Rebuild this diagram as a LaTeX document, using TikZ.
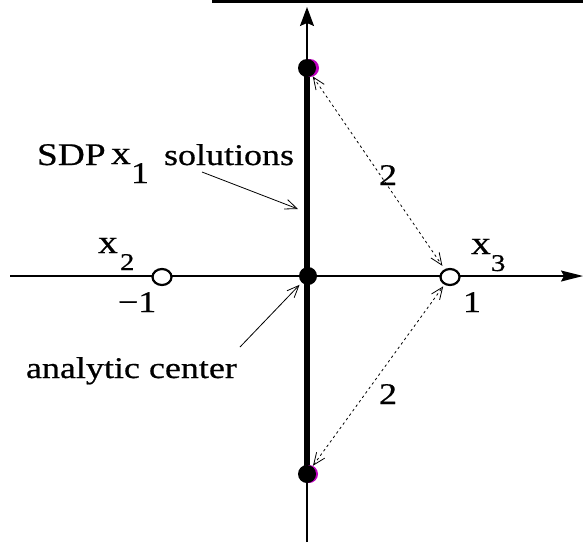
\documentclass[tikz,border=0pt]{standalone}
\usepackage{fontspec}
\setmainfont{Liberation Serif}
\newfontfamily\lab{Liberation Serif}[FakeBold=0.6, FakeStretch=1.2]
\usepackage{graphicx}
\usetikzlibrary{arrows.meta,shapes.geometric}
\begin{document}
\begin{tikzpicture}[x=1pt,y=-1pt,
  lbl/.style={inner sep=0pt, outer sep=0pt, anchor=base west, font=\lab\fontsize{30}{36}\selectfont},
  bigx/.style={lbl, font=\lab\fontsize{33}{38}\selectfont},
  subx/.style={lbl, font=\lab\fontsize{24}{28}\selectfont},
  dot/.style={circle, fill=black, inner sep=0pt, minimum size=18pt},
  hole/.style={ellipse, draw=black, line width=2.2pt, inner sep=0pt, minimum width=19pt, minimum height=16pt, fill=white},
  barb/.tip={Straight Barb[length=12pt,width=10pt]},
  ptr/.style={-barb, line width=0.8pt},
  dist/.style={barb-barb, line width=0.8pt, dash pattern=on 2.5pt off 3pt},
  axis/.style={line width=1.5pt},
  halo/.style={violet!50!magenta},
]
\useasboundingbox (0,0) rectangle (583,542);
\draw[line width=3pt] (212,1.5) -- (583,1.5);
% axes
\coordinate (yb) at (307,542);
\coordinate (yt) at (307,7);
\coordinate (xl) at (10,276);
\coordinate (xr) at (583,276);
\draw[axis, -{Stealth[length=19pt,width=14pt,inset=3pt]}] (yb) -- (yt);
\draw[axis, -{Stealth[length=22pt,width=11pt,inset=3pt]}] (xl) -- (xr);
% points
\coordinate (topc) at (307,68);
\coordinate (botc) at (307,474);
\draw[line width=6.5pt] (topc) -- (botc);
\fill[halo] (310,68) circle (9);
\fill[halo] (309,474) circle (9);
\node[dot] (top) at (topc) {};
\node[dot] (org) at (308,276) {};
\node[dot] (bot) at (botc) {};
\node[hole] (x2) at (162,277) {};
\node[hole] (x3) at (450,277) {};
% labels
\node[lbl] (sdp) at (37,165) {\scalebox{1.04}[1.05]{SDP}};
\node[bigx] (x1l) at (111,164) {x};
\node[lbl] (x1s) at (131,183) {1};
\node[lbl] (sol) at (164,165) {solutions};
\node[bigx] (x2l) at (98,253) {x};
\node[subx] (x2s) at (120,270) {2};
\node[bigx] (x3l) at (471,254) {x};
\node[subx] (x3s) at (491,271) {3};
\node[lbl] (m1) at (118,312) {−1};
\node[lbl] (p1) at (463,312) {1};
\node[lbl] (d1) at (379,185) {2};
\node[lbl] (d2) at (379,404) {2};
\node[lbl] (ac) at (26,378) {analytic center};
% pointers
\coordinate (sa) at (202,172);
\coordinate (se) at (298,209);
\draw[ptr] (sa) -- (se);
\coordinate (aa) at (240,347);
\draw[ptr, shorten >=3pt] (aa) -- (org);
\draw[dist, shorten <=1pt, shorten >=4pt] (top) -- (x3);
\draw[dist, shorten <=1pt, shorten >=2pt] (bot) -- (x3);
\end{tikzpicture}
\end{document}
